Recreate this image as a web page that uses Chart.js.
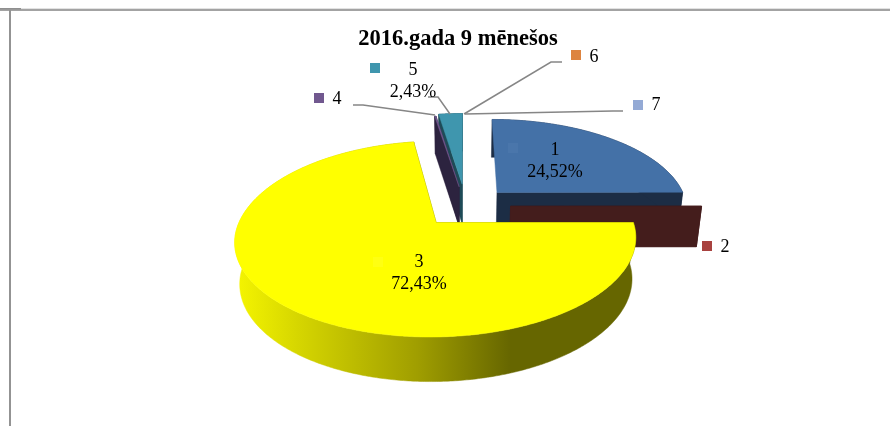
<!DOCTYPE html>
<html><head><meta charset="utf-8">
<style>html,body{margin:0;padding:0;background:#fff}canvas{display:block}</style>
<script src="https://cdn.jsdelivr.net/npm/chart.js@4"></script>
</head><body><canvas id="c" width="890" height="426"></canvas>
<script>
const categories = ['1','2','3','4','5','6','7'];
const values = [24.52,0.03,72.43,0.14,2.43,0,0];
const titleText = '2016.gada 9 mēnešos';
const shownPercent = [true,false,true,false,true,false,false];
const topColors = ['#4471A7','#441D1C','#FFFF00','#71588F','#3F96AE','#DD8440','#94AAD5'];
const wallColors = ['#1C2D45','#441D1C','#666600','#2C233F','#1E4B57','#6E4220','#4A556A'];
const keyColors = ['#4A76AB','#A8423F','#FFFF12','#71588F','#3F96AE','#DD8440','#94AAD5'];
const explode = [46,46,46,46,52,46,46];
const paintOrder = [6,5,4,3,0,1,2];
const pieRotation = 1.62, pieSweep = 358.38;

// camera
const R=197, BACK=1.03, CX=464, VY=-296, VH=518, D=1090, U0=2, V0=-34;
function proj(u,v,z){
  const s=1/(1-v/D);
  let x=CX+u*s, y=VY+VH*s;
  if(z){ x=CX+(x-CX)*(1-0.022*z); y+=z*(25+16*s); }
  return [x,y];
}
function poly(ctx,pts,fill){
  ctx.beginPath();
  pts.forEach((p,i)=>i?ctx.lineTo(p[0],p[1]):ctx.moveTo(p[0],p[1]));
  ctx.closePath(); ctx.fillStyle=fill; ctx.fill();
  ctx.strokeStyle=fill; ctx.lineWidth=0.5; ctx.stroke();
}
const pie3d={id:'pie3d',
  beforeDraw(chart){
    const c=chart.ctx;
    c.save();
    c.fillStyle='#fff'; c.fillRect(0,0,890,426);
    c.fillStyle='#e2e2e2'; c.fillRect(21,8,869,1);
    c.fillStyle='#a3a3a3'; c.fillRect(0,9,890,2);
    c.fillStyle='#8f8f8f'; c.fillRect(0,8,21,1.5);
    c.fillStyle='#939393'; c.fillRect(9,10,2,416);
    c.restore();
  },
  beforeDatasetsDraw(chart){
    const ctx=chart.ctx, arcs=chart.getDatasetMeta(0).data;
    ctx.save();
    const grad=ctx.createLinearGradient(238,0,636,0);
    grad.addColorStop(0,'#F4F400');grad.addColorStop(0.15,'#D6D600');
    grad.addColorStop(0.45,'#A09E00');grad.addColorStop(0.685,'#666600');grad.addColorStop(1,'#666600');
    paintOrder.forEach(i=>{
      const a=arcs[i], off=a.options.offset;
      if(!(a.endAngle>a.startAngle)) return;
      const mid=(a.startAngle+a.endAngle)/2;
      const ou=U0+Math.cos(mid)*off, ov=V0+Math.sin(mid)*off;
      // perspective widens the first slice to a full quarter on screen
      const from=i===0?-Math.PI/2:a.startAngle, to=a.endAngle;
      const rim=[]; const n=Math.max(2,Math.ceil((to-from)/0.01));
      for(let j=0;j<=n;j++){
        const t=from+(to-from)*j/n, sn=Math.sin(t);
        rim.push([ou+R*Math.cos(t),ov+R*sn*(sn<0?BACK:1)]);
      }
      const wall=wallColors[i];
      const top=rim.map(p=>proj(p[0],p[1],0));
      const bot=rim.map(p=>proj(p[0],p[1],1));
      const apex0=proj(ou,ov,0), apex1=proj(ou,ov,1);
      if(i!==0) poly(ctx,[apex0,top[0],bot[0],apex1],wall);
      poly(ctx,[apex0,top[n],bot[n],apex1],wall);
      poly(ctx,top.concat(bot.slice().reverse()),i===2?grad:wall);
      poly(ctx,[apex0].concat(top),a.options.backgroundColor);
    });
    ctx.restore();
    return false;
  },
  afterDraw(chart){
    const c=chart.ctx;
    c.save();
    c.strokeStyle='#868686'; c.lineWidth=1.5;
    [[[353,105],[363,105],[435,115]],
     [[428,97],[438,97],[450,114]],
     [[464,114],[551,62],[562,62]],
     [[465,114],[613,111],[623,111]]].forEach(l=>{
      c.beginPath(); l.forEach((p,i)=>i?c.lineTo(p[0],p[1]):c.moveTo(p[0],p[1])); c.stroke();
    });
    const keys=[[508,143],[702,241],[373,257],[314,93],[370,63],[571,50],[633,100]];
    keys.forEach((p,i)=>{c.fillStyle=keyColors[i]; c.fillRect(p[0],p[1],10,10);});
    const pos=[[555,150],[725,247],[419,262],[337,99],[413,70],[594,57],[656,105]];
    c.fillStyle='#000'; c.font="18px 'Liberation Serif'"; c.textAlign='center'; c.textBaseline='middle';
    categories.forEach((t,i)=>{
      c.fillText(t,pos[i][0],pos[i][1]);
      if(shownPercent[i]) c.fillText(values[i].toFixed(2).replace('.',',')+'%',pos[i][0],pos[i][1]+22);
    });
    c.restore();
  }
};
new Chart(document.getElementById('c'),{
  type:'pie',
  data:{labels:categories,datasets:[{data:values,backgroundColor:topColors,offset:explode,borderWidth:0}]},
  options:{responsive:false,animation:false,radius:200,rotation:pieRotation,circumference:pieSweep,
    layout:{padding:{left:26}},
    plugins:{legend:{display:false},tooltip:{enabled:false},
      title:{display:true,text:titleText,color:'#000',padding:{top:26,bottom:0},
        font:{family:"'Liberation Serif'",size:22.5,weight:'bold'}}}},
  plugins:[pie3d]
});
</script></body></html>
